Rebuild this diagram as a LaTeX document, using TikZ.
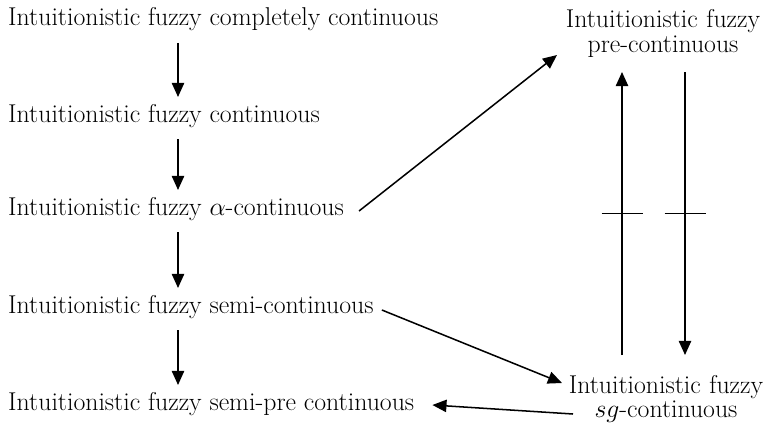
\RequirePackage{fix-cm}
\documentclass[tikz,border=0pt]{standalone}
\usepackage{tikz}
\usetikzlibrary{arrows,arrows.meta,calc}

\begin{document}
\begin{tikzpicture}[x=0.03cm,y=-0.03cm,
    txt/.style={inner sep=0pt,font=\fontsize{22}{21.3}\selectfont},
    twoline/.style={txt,text width=7cm,align=center},
    arr/.style={line width=1.3pt,-{Triangle[length=12pt,width=10.5pt]}}]
      \useasboundingbox (0,0) rectangle (765,424);
      \def\leftNodes{
        \node [txt,anchor=base west] (cc) at (8,26) {Intuitionistic fuzzy completely continuous};
        \node [txt,anchor=base west] (cont) at (8,122) {Intuitionistic fuzzy continuous};
        \node [txt,anchor=base west] (alpha) at (8,215) {Intuitionistic fuzzy $\alpha$-continuous};
        \node [txt,anchor=base west] (semi) at (8,313) {Intuitionistic fuzzy semi-continuous};
        \node [txt,anchor=base west] (semipre) at (8,410) {Intuitionistic fuzzy semi-pre continuous};
      }
      \def\rightNodes{
        \node [twoline,anchor=base] (pre) at (663,28) {Intuitionistic fuzzy\\pre-continuous};
        \node [twoline,anchor=base] (sg) at (666,393) {Intuitionistic fuzzy\\$sg$-continuous};
      }
      \def\showArrows{
        % Draw the left column
        \foreach \a/\b in {cc/cont,cont/alpha,alpha/semi,semi/semipre} {
          \draw [arr] ($ (\a.base west)+(170,17) $) -- ($ (\b.base west)+(170,-25) $);
        }
        % Draw the cross links
        \draw [arr] ($ (alpha.base east)+(15,-4) $) -- ($ (pre.base)+(-106,27) $);
        \draw [arr] ($ (semi.base east)+(8,-3) $) -- ($ (sg.base)+(-104,-10) $);
        \draw [arr] ($ (sg.base)+(-93,21) $) -- ($ (semipre.base east)+(18,-5) $);
        % Draw the non implications
        \coordinate (u1) at ($ (sg.base)+(-44,-38) $);
        \coordinate (u2) at ($ (pre.base)+(-41,44) $);
        \coordinate (d1) at ($ (pre.base)+(22,44) $);
        \coordinate (d2) at ($ (sg.base)+(19,-38) $);
        \draw [arr] (u1) -- (u2);
        \draw [arr] (d1) -- (d2);
        \foreach \p/\q in {u1/u2,d1/d2} {
          \draw [line width=1.3pt] ($ (\p)!.5!(\q)+(-20.5,0) $) -- ++(41,0);
        }
      }
      \leftNodes
      \rightNodes
      \showArrows
    \end{tikzpicture}
\end{document}
